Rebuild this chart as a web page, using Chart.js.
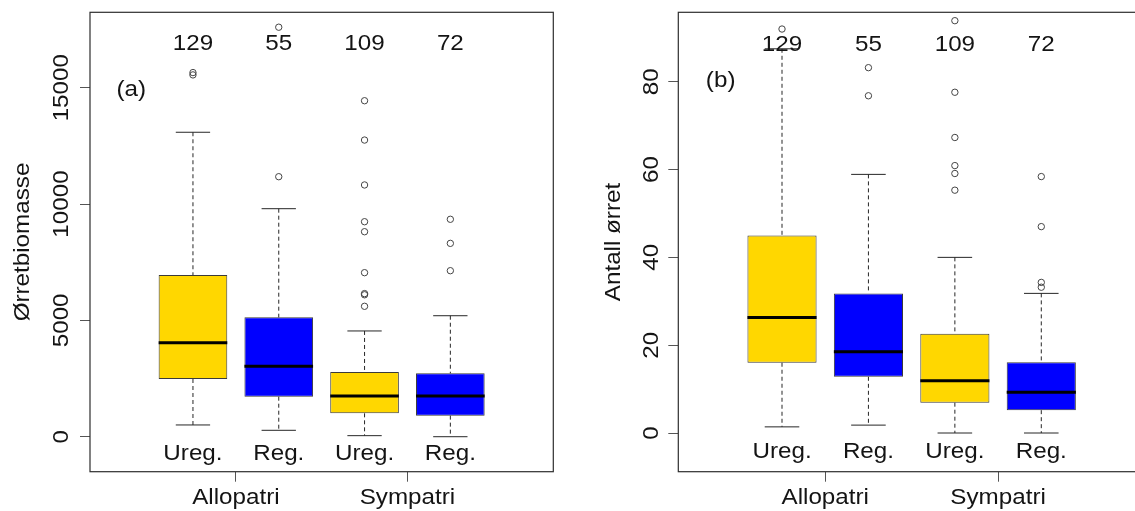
<!DOCTYPE html>
<html>
<head>
<meta charset="utf-8">
<script src="https://cdn.jsdelivr.net/npm/chart.js@4.4.1/dist/chart.umd.min.js"></script>
<style>
  html, body { margin: 0; padding: 0; background: #fff; overflow: hidden; width: 1135px; height: 511px; }
  canvas { position: absolute; top: 0; }
  #biomass { left: 0; }
  #count { left: 567px; }
</style>
</head>
<body>
<canvas id="biomass" width="567" height="511"></canvas>
<canvas id="count" width="620" height="511"></canvas>
<script>
// ---- shared categories ----
const categories = ['Ureg.', 'Reg.', 'Ureg.', 'Reg.'];
const positions = [1, 2, 3, 4];
const groups = ['Allopatri', 'Sympatri'];
const groupTicks = [1.5, 3.5];
const sampleSizes = [129, 55, 109, 72];
const boxFills = ['#FFD700', '#0000FF', '#FFD700', '#0000FF'];

// ---- (a) trout biomass ----
const biomassTicks = [0, 5000, 10000, 15000];
const biomassLow = [505, 275, 45, 0];
const biomassQ1 = [2480, 1720, 1005, 905];
const biomassMedian = [4040, 3025, 1750, 1750];
const biomassQ3 = [6950, 5130, 2780, 2725];
const biomassHigh = [13085, 9800, 4545, 5200];
const biomassOutliers = [
  [15550, 15650],
  [11175, 17600],
  [14440, 12750, 10820, 9240, 8810, 7050, 6150, 6100, 5605],
  [9345, 8310, 7135]
];

// ---- (b) trout count ----
const countTicks = [0, 20, 40, 60, 80];
const countLow = [1.4, 1.8, 0, 0];
const countQ1 = [16, 12.8, 6.9, 5.2];
const countMedian = [26.3, 18.5, 11.9, 9.3];
const countQ3 = [45, 31.8, 22.6, 16.1];
const countHigh = [87.5, 58.9, 40, 31.8];
const countOutliers = [
  [92],
  [83.2, 76.8],
  [93.9, 77.6, 67.3, 60.9, 59.1, 55.3],
  [58.4, 47, 34.3, 33.2]
];

const FONT_FAMILY = '"Liberation Sans", Arial, Helvetica, sans-serif';
const FONT_SIZE = 22;
const TEXT_STRETCH = 1.1;
const CAP_HALF = 0.358 * FONT_SIZE;
const BOX_HALF = 0.4;
const CAP_HALF_WIDTH = 0.2;

Chart.defaults.font.family = FONT_FAMILY;

function drawLabel(ctx, str, px, py, angle) {
  ctx.save();
  ctx.translate(px, py);
  if (angle) ctx.rotate(angle);
  ctx.scale(TEXT_STRETCH, 1);
  ctx.textAlign = 'center';
  ctx.textBaseline = 'alphabetic';
  ctx.fillText(str, 0, 0);
  ctx.restore();
}

// Frame, rotated tick labels, titles, counts and group labels
const panelText = {
  id: 'panelText',
  afterDatasetsDraw(chart, args, o) {
    const { ctx, chartArea: a, scales: { x, y } } = chart;
    ctx.save();
    ctx.strokeStyle = '#2e2e2e';
    ctx.lineWidth = 1.2;
    ctx.strokeRect(a.left, a.top, a.right - a.left, a.bottom - a.top);

    ctx.fillStyle = '#141414';
    ctx.font = FONT_SIZE + 'px ' + FONT_FAMILY;

    o.ticks.forEach(v => drawLabel(ctx, String(v), a.left - o.tickGap, y.getPixelForValue(v), -Math.PI / 2));
    drawLabel(ctx, o.title, a.left - o.titleGap, (a.top + a.bottom) / 2, -Math.PI / 2);

    sampleSizes.forEach((n, i) =>
      drawLabel(ctx, String(n), x.getPixelForValue(positions[i]), y.getPixelForValue(o.countY) + CAP_HALF));
    categories.forEach((c, i) =>
      drawLabel(ctx, c, x.getPixelForValue(positions[i]), y.getPixelForValue(o.categoryY) + CAP_HALF));
    groups.forEach((g, i) =>
      drawLabel(ctx, g, x.getPixelForValue(groupTicks[i]), a.bottom + o.groupGap));

    drawLabel(ctx, o.tag, x.getPixelForValue(o.tagX), y.getPixelForValue(o.tagY) + CAP_HALF);
    ctx.restore();
  }
};

function boxDatasets(low, q1, median, q3, high, outliers) {
  const whiskers = [], caps = [], medians = [];
  positions.forEach((p, i) => {
    whiskers.push({ x: p, y: high[i] }, { x: p, y: q3[i] }, { x: p, y: null },
                  { x: p, y: q1[i] }, { x: p, y: low[i] }, { x: p, y: null });
    caps.push({ x: p - CAP_HALF_WIDTH, y: high[i] }, { x: p + CAP_HALF_WIDTH, y: high[i] }, { x: p, y: null },
              { x: p - CAP_HALF_WIDTH, y: low[i] }, { x: p + CAP_HALF_WIDTH, y: low[i] }, { x: p, y: null });
    medians.push({ x: p - BOX_HALF, y: median[i] }, { x: p + BOX_HALF, y: median[i] }, { x: p, y: null });
  });
  const points = outliers.flatMap((list, i) => list.map(v => ({ x: positions[i], y: v })));
  return [
    {
      type: 'bar',
      data: positions.map((p, i) => ({ x: p, y: [q1[i], q3[i]] })),
      backgroundColor: boxFills,
      borderColor: '#3a3a3a',
      borderWidth: 1,
      borderSkipped: false,
      barPercentage: 0.8,
      categoryPercentage: 1,
      order: 4
    },
    {
      type: 'line', data: whiskers, borderColor: '#262626', borderWidth: 1,
      borderDash: [4, 3], pointRadius: 0, spanGaps: false, order: 3
    },
    {
      type: 'line', data: caps, borderColor: '#262626', borderWidth: 1,
      pointRadius: 0, spanGaps: false, order: 2
    },
    {
      type: 'line', data: medians, borderColor: '#000', borderWidth: 3,
      borderCapStyle: 'butt', pointRadius: 0, spanGaps: false, order: 1
    },
    {
      type: 'scatter', data: points, pointStyle: 'circle', pointRadius: 3.2,
      borderColor: '#444', borderWidth: 1, backgroundColor: 'rgba(0,0,0,0)', order: 0
    }
  ];
}

function makePanel(id, cfg) {
  return new Chart(document.getElementById(id), {
    type: 'bar',
    data: { datasets: cfg.datasets },
    options: {
      responsive: false,
      animation: false,
      devicePixelRatio: 1,
      events: [],
      layout: { padding: { left: 0, top: 12.3, right: cfg.padRight, bottom: 0 } },
      plugins: {
        legend: { display: false },
        tooltip: { enabled: false },
        panelText: cfg.text
      },
      scales: {
        x: {
          type: 'linear', min: -0.2, max: 5.2, offset: false,
          afterBuildTicks: s => { s.ticks = groupTicks.map(v => ({ value: v })); },
          afterFit: s => { s.height = 39.3; },
          ticks: { display: false },
          border: { display: false },
          grid: { offset: false, drawOnChartArea: false, drawTicks: true, tickLength: 10, color: '#555', tickColor: '#555' }
        },
        y: {
          type: 'linear', min: cfg.yMin, max: cfg.yMax, beginAtZero: false,
          afterBuildTicks: s => { s.ticks = cfg.text.ticks.map(v => ({ value: v })); },
          afterFit: s => { s.width = cfg.axisWidth; },
          ticks: { display: false },
          border: { display: false },
          grid: { drawOnChartArea: false, drawTicks: true, tickLength: 10, color: '#555', tickColor: '#555' }
        }
      }
    },
    plugins: [panelText]
  });
}

makePanel('biomass', {
  datasets: boxDatasets(biomassLow, biomassQ1, biomassMedian, biomassQ3, biomassHigh, biomassOutliers),
  yMin: -1504, yMax: 18241, axisWidth: 90, padRight: 13.7,
  text: {
    ticks: biomassTicks, tickGap: 22, title: 'Ørretbiomasse', titleGap: 61,
    countY: 16943, categoryY: -664, groupGap: 32, tag: '(a)', tagX: 0.28, tagY: 15000
  }
});

makePanel('count', {
  datasets: boxDatasets(countLow, countQ1, countMedian, countQ3, countHigh, countOutliers),
  yMin: -8.81, yMax: 95.81, axisWidth: 111.3, padRight: 42,
  text: {
    ticks: countTicks, tickGap: 20.3, title: 'Antall ørret', titleGap: 58.3,
    countY: 88.77, categoryY: -3.83, groupGap: 32, tag: '(b)', tagX: 0.29, tagY: 80.5
  }
});
</script>
</body>
</html>
